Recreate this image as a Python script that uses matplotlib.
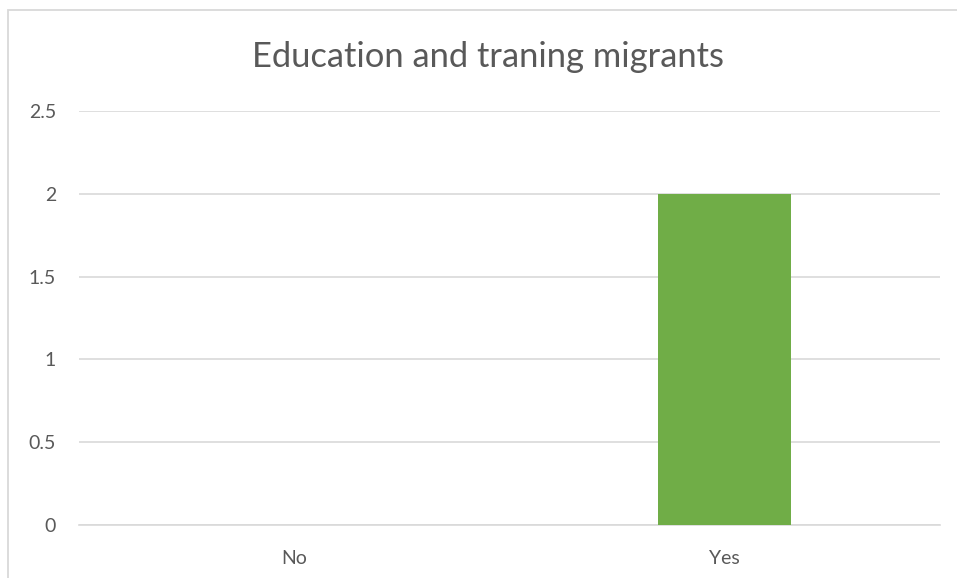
import matplotlib
matplotlib.use("Agg")
import matplotlib.pyplot as plt
from matplotlib.patches import Rectangle

categories = ["No", "Yes"]
counts = [0, 2]
yticks = [0, 0.5, 1, 1.5, 2, 2.5]
title = "Education and traning migrants"

text_col = "#595959"
grid_col = "#D9D9D9"
bar_col = "#70AD47"

plt.rcParams["font.family"] = ["Lato", "DejaVu Sans"]

fig = plt.figure(figsize=(9.57, 5.78), dpi=100)
ax = fig.add_axes([0.0826, 0.0917, 0.8994, 0.7163])

# chart frame, cut off at the right and bottom edges
fig.patches.append(Rectangle((8 / 957, -0.1), 1.2, 1 - 10 / 578 + 0.1,
                             transform=fig.transFigure, fill=False,
                             edgecolor=grid_col, linewidth=1.3))

x = range(len(categories))
ax.bar(x, counts, width=0.31, color=bar_col, zorder=3)

ax.set_xlim(-0.5, 1.5)
ax.set_ylim(0, 2.5)
ax.set_yticks(yticks)
ax.set_yticklabels([f"{v:g}" for v in yticks])
ax.set_xticks(list(x))
ax.set_xticklabels(categories)
ax.yaxis.grid(True, color=grid_col, linewidth=1.2, zorder=0)
ax.tick_params(axis="both", length=0, labelsize=14, colors=text_col)
ax.tick_params(axis="y", pad=16.5)
ax.tick_params(axis="x", pad=18)
for s in ["top", "right", "left"]:
    ax.spines[s].set_visible(False)
ax.spines["bottom"].set_color(grid_col)
ax.spines["bottom"].set_linewidth(1.2)

fig.text(488 / 957, 1 - 67 / 578, title, ha="center", va="baseline",
         fontsize=24.8, color=text_col)

fig.savefig("out.png", dpi=100)
